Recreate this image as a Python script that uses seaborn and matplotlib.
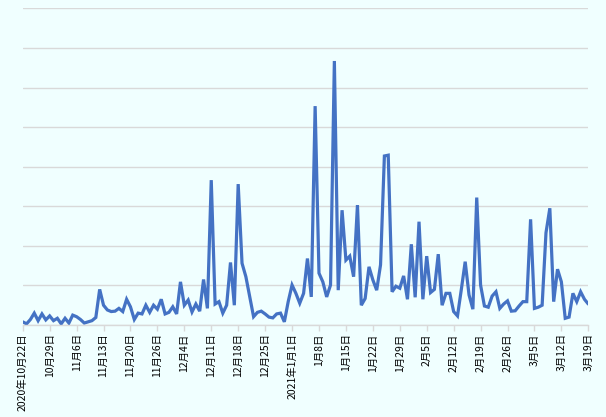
import matplotlib
matplotlib.use("Agg")
import matplotlib.pyplot as plt
import seaborn as sns
import pandas as pd
import numpy as np

values = [8, 3, 14, 30, 11, 28, 13, 23, 11, 17,
          3, 17, 5, 25, 21, 14, 5, 8, 11, 19,
          90, 50, 38, 34, 35, 42, 34, 65, 46, 14,
          30, 28, 50, 32, 50, 40, 65, 28, 32, 46,
          28, 109, 50, 63, 33, 53, 35, 115, 42, 366,
          53, 59, 30, 50, 158, 50, 356, 156, 122, 71,
          21, 32, 35, 28, 20, 18, 28, 30, 8, 59,
          101, 80, 55, 80, 168, 71, 553, 131, 109, 71,
          101, 667, 88, 290, 164, 174, 122, 303, 50, 67,
          147, 114, 88, 152, 427, 429, 84, 98, 93, 124,
          65, 204, 70, 261, 65, 174, 82, 90, 179, 50,
          80, 80, 34, 23, 90, 160, 76, 40, 322, 101,
          48, 45, 73, 84, 42, 53, 61, 35, 36, 48,
          59, 59, 267, 42, 45, 50, 233, 295, 59, 141,
          109, 17, 20, 80, 59, 84, 65, 53]

tick_labels = ["2020年10月22日", "10月29日", "11月6日", "11月13日", "11月20日",
               "11月26日", "12月4日", "12月11日", "12月18日", "12月25日",
               "2021年1月1日", "1月8日", "1月15日", "1月22日", "1月29日",
               "2月5日", "2月12日", "2月19日", "2月26日", "3月5日",
               "3月12日", "3月19日"]
tick_step = 7
grid_values = list(range(0, 801, 100))

df = pd.DataFrame({"idx": np.arange(len(values)), "value": values})

sns.set_theme(style="white")
plt.rcParams['font.family'] = ['Noto Sans CJK JP', 'DejaVu Sans']

bg = "#F0FFFF"
fig = plt.figure(figsize=(6.06, 4.17), dpi=100, facecolor=bg)
ax = fig.add_axes([0.0375, 0.2206, 0.9333, 0.7594])
ax.set_facecolor(bg)

sns.lineplot(data=df, x="idx", y="value", ax=ax, color="#4472C4",
             linewidth=2.3, solid_joinstyle="miter")

ax.set_xlim(0, len(values) - 1)
ax.set_ylim(grid_values[0], grid_values[-1])
ax.set_yticks(grid_values)
ax.set_yticklabels([])
ax.tick_params(axis="y", length=0)
ax.yaxis.grid(True, color="#D9D9D9", linewidth=1)
ax.xaxis.grid(False)
ax.set_axisbelow(True)

ax.set_xticks(np.arange(0, len(values), tick_step)[:len(tick_labels)])
ax.set_xticklabels(tick_labels, rotation=90, fontsize=7.5, color="black",
                   family=['Noto Sans CJK JP', 'DejaVu Sans'])
ax.tick_params(axis="x", length=4, width=1, color="#D9D9D9", pad=2,
               bottom=True)
ax.set_xlabel("")
ax.set_ylabel("")

for s in ["top", "right", "left"]:
    ax.spines[s].set_visible(False)
ax.spines["bottom"].set_color("#D9D9D9")
ax.spines["bottom"].set_linewidth(1)

fig.savefig("out.png", dpi=100, facecolor=bg)
